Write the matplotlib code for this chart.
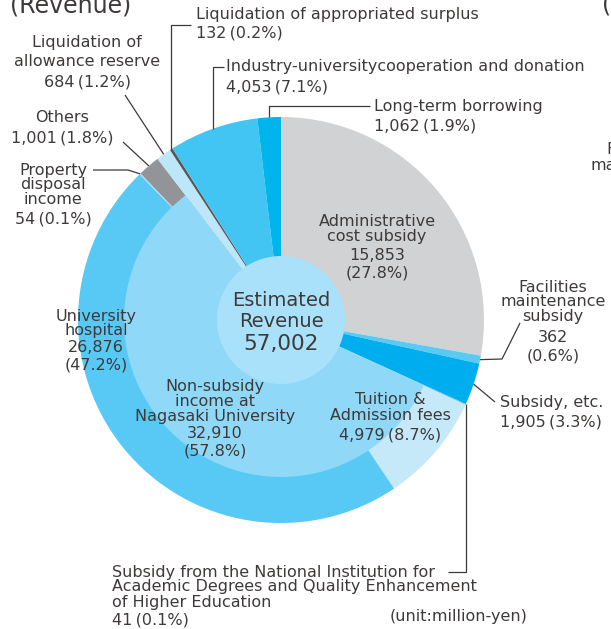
import numpy as np
import matplotlib
matplotlib.use("Agg")
import matplotlib.pyplot as plt
from matplotlib.patches import Circle

# ---------------- data ----------------
categories = [
    "Administrative cost subsidy",
    "Facilities maintenance subsidy",
    "Subsidy, etc.",
    "Subsidy from the National Institution for Academic Degrees and Quality Enhancement of Higher Education",
    "Tuition & Admission fees",
    "University hospital",
    "Property disposal income",
    "Others",
    "Liquidation of allowance reserve",
    "Liquidation of appropriated surplus",
    "Industry-university cooperation and donation",
    "Long-term borrowing",
]
values = [15853, 362, 1905, 41, 4979, 26876, 54, 1001, 684, 132, 4053, 1062]
percent_labels = ["27.8%", "0.6%", "3.3%", "0.1%", "8.7%", "47.2%",
                  "0.1%", "1.8%", "1.2%", "0.2%", "7.1%", "1.9%"]
non_subsidy_members = [4, 5, 6, 7]          # indices making up non-subsidy income
non_subsidy_total = 32910
non_subsidy_pct = "57.8%"
total_revenue = 57002

# ---------------- style ----------------
colors = ["#d1d2d4", "#5bcaf3", "#00aeef", "#4cc3f0", "#c6e9fa", "#57c9f4",
          "#a7dcf5", "#929497", "#bee6f9", "#595757", "#42c5f3", "#00b4ec"]
inner_color = "#8fd8f7"
center_color = "#a9e1fa"
txt = "#3e3a39"
plt.rcParams['font.family'] = ['DejaVu Sans', 'Noto Sans CJK JP']

W, H = 611, 629
fig = plt.figure(figsize=(W / 100, H / 100), dpi=100)
ax = fig.add_axes([0, 0, 1, 1])

CX, CY = 281, 320
R_OUT, R_IN, R_C = 203, 157, 64

# outer wedges (y axis inverted -> counterclock in data = clockwise on screen)
ax.pie(values, radius=R_OUT, center=(CX, CY), startangle=-90, colors=colors,
       counterclock=True, wedgeprops=dict(linewidth=0, antialiased=True))

# inner non-subsidy wedge
start_frac = sum(values[:non_subsidy_members[0]]) / total_revenue
ax.pie([non_subsidy_total / total_revenue], normalize=False, radius=R_IN,
       center=(CX, CY), startangle=-90 + 360 * start_frac, colors=[inner_color],
       counterclock=True, wedgeprops=dict(linewidth=0))

ax.add_patch(Circle((CX, CY), R_C, facecolor=center_color, edgecolor='none', zorder=5))

ax.set_xlim(0, W)
ax.set_ylim(H, 0)
ax.set_aspect('auto')
ax.axis('off')

cum = np.cumsum([0] + values)


def edge(i, r=R_OUT):
    mid = (cum[i] + cum[i + 1]) / 2 / total_revenue
    th = np.deg2rad(-90 + 360 * mid)
    return CX + r * np.cos(th), CY + r * np.sin(th)


def fmt(v):
    return f"{v:,}"


def block(x, ys, lines, ha='center', size=11.5):
    for y, s in zip(ys, lines):
        ax.text(x, y, s, ha=ha, va='center', fontsize=size, color=txt, zorder=10)


def leader(points, i):
    ex, ey = edge(i)
    pts = list(points)
    xs = [p[0] if p[0] is not None else ex for p in pts] + [ex]
    ys = [p[1] for p in pts] + [ey]
    ax.plot(xs, ys, color=txt, lw=0.9, solid_capstyle='butt', zorder=9)


def pv(i):
    return f"{fmt(values[i])}\u2009({percent_labels[i]})"


# labels inside
block(377, [221, 237, 255, 273], ["Administrative", "cost subsidy", fmt(values[0]), f"({percent_labels[0]})"])
block(390, [400, 416, 435], ["Tuition &", "Admission fees", pv(4)])
block(96, [316, 331, 347, 365], ["University", "hospital", fmt(values[5]), f"({percent_labels[5]})"])
block(215, [387, 402, 417, 433, 451], ["Non-subsidy", "income at", "Nagasaki University",
                                      fmt(non_subsidy_total), f"({non_subsidy_pct})"])
ax.text(CX, 311, "Estimated\nRevenue", ha='center', va='center', fontsize=14,
        color=txt, linespacing=1.1, zorder=10)
ax.text(CX, 344, fmt(total_revenue), ha='center', va='center', fontsize=15.5,
        color=txt, zorder=10)

# outside labels
block(196, [15, 33], ["Liquidation of appropriated surplus", pv(9)], ha='left')
leader([(191, 25), (None, 25)], 9)

block(87, [43, 62, 82], ["Liquidation of", "allowance reserve", pv(8)])
leader([(125, 95)], 8)

block(226, [67, 87], ["Industry-universitycooperation and donation", pv(10)], ha='left')
leader([(224, 67), (None, 67)], 10)

block(374, [107, 126], ["Long-term borrowing", pv(11)], ha='left')
leader([(370, 106), (None, 106)], 11)

block(62, [118, 138], ["Others", pv(7)])
leader([(123, 142)], 7)

block(53, [171, 185, 200, 219], ["Property", "disposal", "income", pv(6)])
leader([(93, 170), (128, 170)], 6)

block(553, [287, 302, 317, 338, 356], ["Facilities", "maintenance", "subsidy",
                                      fmt(values[1]), f"({percent_labels[1]})"])
leader([(520, 323), (502, 359)], 1)

block(500, [403, 422], ["Subsidy, etc.", pv(2)], ha='left')
leader([(495, 402)], 2)

block(112, [572, 587, 602, 620], ["Subsidy from the National Institution for",
                                  "Academic Degrees and Quality Enhancement",
                                  "of Higher Education", pv(3)], ha='left')
leader([(448, 572), (None, 572)], 3)

ax.text(390, 616, "(unit:million-yen)", ha='left', va='center', fontsize=11.5, color=txt)

# partially visible titles / neighbouring chart fragments (cut at the edges as in the source)
ax.text(10, 12, "(Revenue)", ha='left', va='baseline', fontsize=17, color=txt)
ax.text(602, 12, "(Expenditure)", ha='left', va='baseline', fontsize=17, color=txt)
ax.text(606, 150, "Facilities", ha='left', va='center', fontsize=11.5, color=txt)
ax.text(591, 166, "maintenance", ha='left', va='center', fontsize=11.5, color=txt)

fig.savefig("out.png", dpi=100)
